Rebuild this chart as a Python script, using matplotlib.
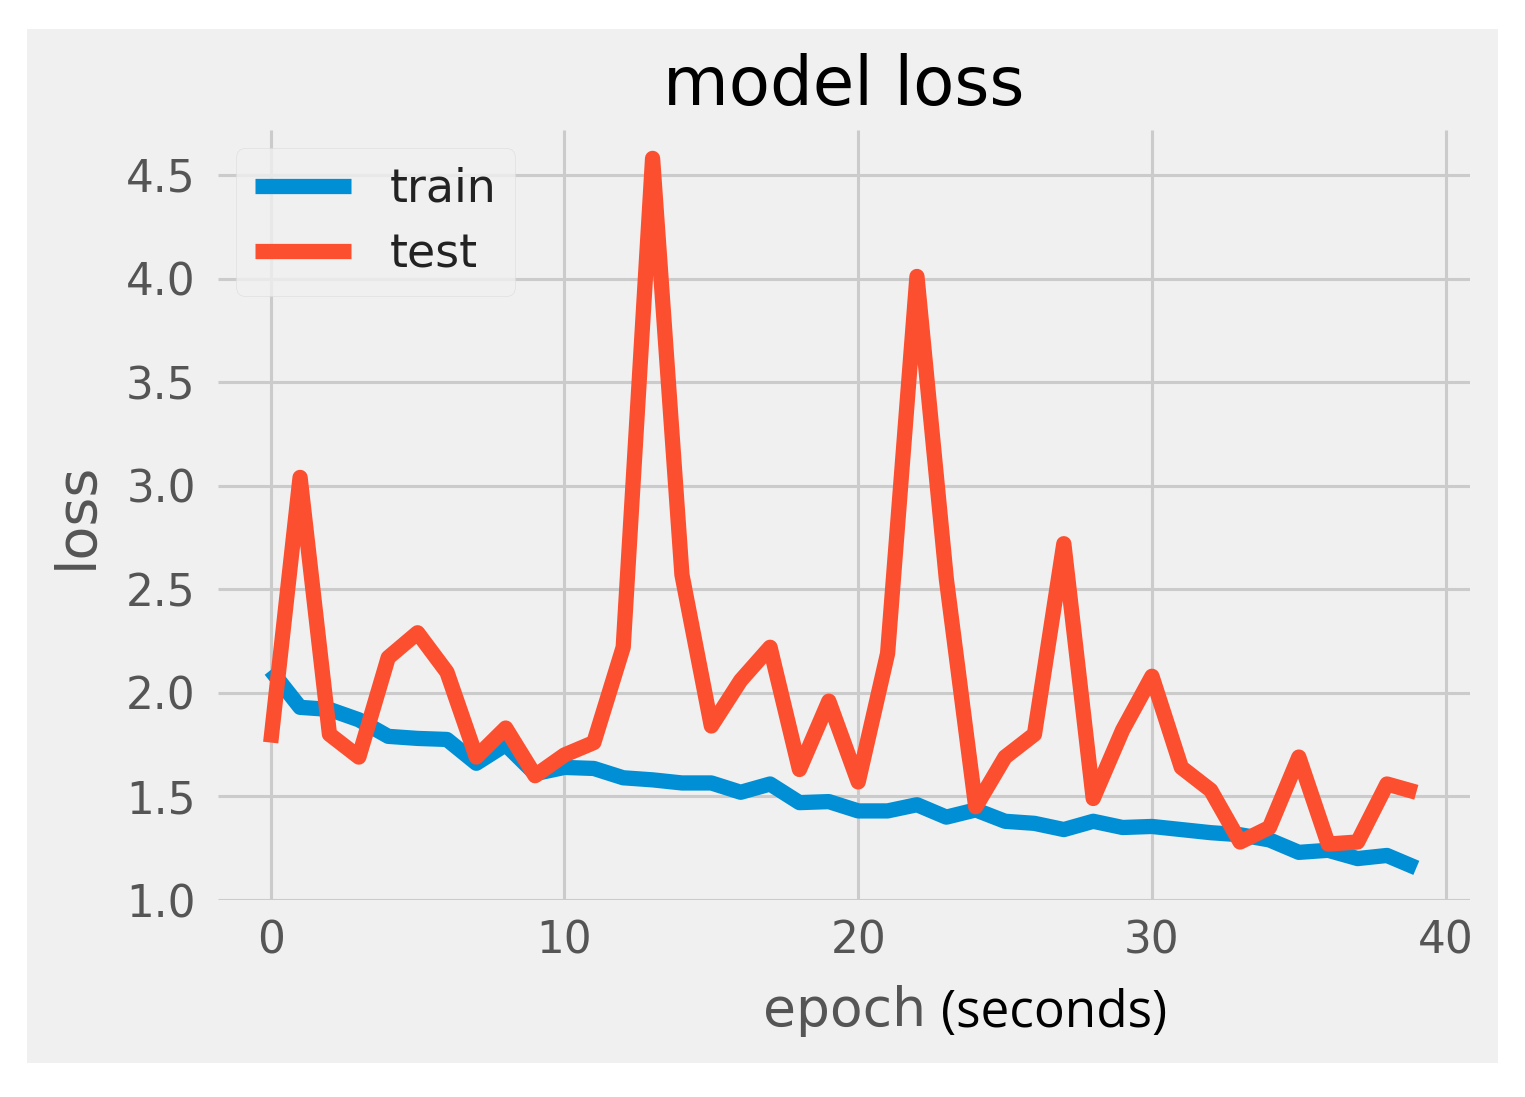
import matplotlib
matplotlib.use("Agg")
import matplotlib.pyplot as plt
from matplotlib.patches import Rectangle

epochs = list(range(40))
train_loss = [2.11, 1.93, 1.92, 1.87, 1.79, 1.78, 1.775, 1.66, 1.75, 1.61,
              1.64, 1.635, 1.59, 1.58, 1.565, 1.565, 1.52, 1.56, 1.47, 1.475,
              1.43, 1.43, 1.46, 1.40, 1.435, 1.38, 1.37, 1.34, 1.38, 1.35,
              1.355, 1.34, 1.325, 1.315, 1.29, 1.23, 1.24, 1.20, 1.215, 1.155]
test_loss = [1.76, 3.04, 1.80, 1.69, 2.17, 2.29, 2.10, 1.69, 1.83, 1.60,
             1.70, 1.76, 2.22, 4.58, 2.57, 1.84, 2.06, 2.22, 1.63, 1.96,
             1.57, 2.19, 4.01, 2.55, 1.45, 1.69, 1.80, 2.72, 1.49, 1.82,
             2.08, 1.64, 1.53, 1.28, 1.35, 1.69, 1.27, 1.28, 1.56, 1.52]
series_labels = ["train", "test"]
xticks = [0, 10, 20, 30, 40]
yticks = [1.0, 1.5, 2.0, 2.5, 3.0, 3.5, 4.0, 4.5]

plt.style.use("fivethirtyeight")
W, H = 1525, 1097
fig = plt.figure(figsize=(W / 100, H / 100), dpi=100, facecolor="white")
fig.patches.append(Rectangle((27 / W, 1 - 1063 / H), (1498 - 27) / W, (1063 - 29) / H,
                             transform=fig.transFigure, facecolor="#f0f0f0",
                             edgecolor="none", zorder=-10))

ax = fig.add_axes([218 / W, 1 - 900 / H, (1470 - 218) / W, (900 - 130) / H])
ax.set_facecolor("#f0f0f0")
ax.plot(epochs, train_loss, color="#008fd5", lw=11, solid_capstyle="butt", label=series_labels[0])
ax.plot(epochs, test_loss, color="#fc4f30", lw=11, solid_capstyle="butt", label=series_labels[1])

ax.set_xlim(-1.794, 40.827)
ax.set_ylim(1.0, 4.717)
ax.set_xticks(xticks)
ax.set_yticks(yticks)
ax.set_yticklabels([f"{v:.1f}" for v in yticks])
ax.grid(True, color="#cbcbcb", lw=2.2)
for s in ax.spines.values():
    s.set_visible(False)
ax.tick_params(axis="both", length=0, labelsize=31.5, labelcolor="#555555")
ax.tick_params(axis="x", pad=14)
ax.tick_params(axis="y", pad=16)

ax.set_title("model loss", fontsize=48.5, color="black", pad=18)
ax.set_xlabel("epoch", fontsize=38.5, color="#555555", labelpad=16)
ax.set_ylabel("loss", fontsize=40, color="#555555", labelpad=16)

fig.text(941 / W, 1 - 1027 / H, "(seconds)", fontsize=37, color="black",
         family=["Open Sans", "DejaVu Sans"], ha="left", va="baseline")

leg = ax.legend(loc="upper left", fontsize=33, borderaxespad=0.4, framealpha=0.8,
                facecolor="#f0f0f0", edgecolor="#dcdcdc", fancybox=True,
                handlelength=2.1, handletextpad=0.85, labelspacing=0.45)
for t in leg.get_texts():
    t.set_color("#222222")

fig.savefig("out.png", dpi=100, facecolor="white")
